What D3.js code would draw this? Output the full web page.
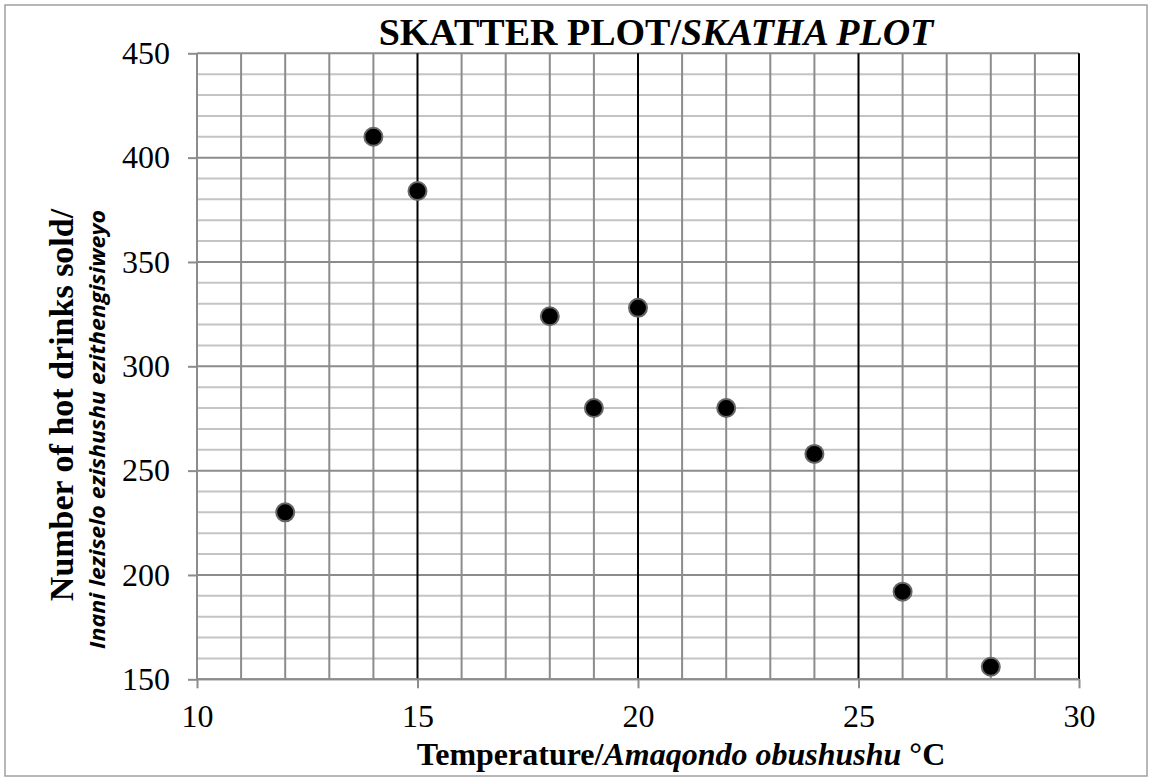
<!DOCTYPE html>
<html><head><meta charset="utf-8">
<script src="https://cdn.jsdelivr.net/npm/d3@7"></script>
<style>body{margin:0;background:#fff;} svg{display:block;}</style>
</head><body>
<script>
const temps = [12, 14, 15, 18, 19, 20, 22, 24, 26, 28];
const drinks = [230, 410, 384, 324, 280, 328, 280, 258, 192, 156];
const xTicks = [10, 15, 20, 25, 30];
const yTicks = [150, 200, 250, 300, 350, 400, 450];
const xMinor = d3.range(10, 31, 1);
const yMinor = d3.range(150, 451, 10);
const titleMain = "SKATTER PLOT/";
const titleItal = "SKATHA PLOT";
const xTitleA = "Temperature/", xTitleB = "Amaqondo obushushu", xTitleC = " °C";
const yTitle1 = "Number of hot drinks sold/";
const yTitle2 = "Inani leziselo ezishushu ezithengisiweyo";

const W = 1152, H = 778;
const m = {left: 197, right: 1079, top: 53.3, bottom: 679.3};
const serif = "Liberation Serif, Times New Roman, serif";
const svg = d3.select("body").append("svg").attr("width", W).attr("height", H);
svg.append("rect").attr("x", 5).attr("y", 5).attr("width", 1142).attr("height", 771)
  .attr("fill", "#fff").attr("stroke", "#a0a0a0").attr("stroke-width", 1.5);

const x = d3.scaleLinear().domain([10, 30]).range([m.left, m.right]);
const y = d3.scaleLinear().domain([150, 450]).range([m.bottom, m.top]);

const g = svg.append("g");
g.selectAll(".hmin").data(yMinor.filter(v => v % 50 !== 0)).join("line")
  .attr("x1", m.left).attr("x2", m.right).attr("y1", d => y(d)).attr("y2", d => y(d))
  .attr("stroke", "#c4c4c4").attr("stroke-width", 2);
g.selectAll(".hmaj").data(yTicks).join("line")
  .attr("x1", m.left).attr("x2", m.right).attr("y1", d => y(d)).attr("y2", d => y(d))
  .attr("stroke", "#8c8c8c").attr("stroke-width", 2);
g.selectAll(".vmin").data(xMinor.filter(v => v % 5 !== 0 || v === 10)).join("line")
  .attr("x1", d => x(d)).attr("x2", d => x(d)).attr("y1", m.top).attr("y2", m.bottom)
  .attr("stroke", "#8c8c8c").attr("stroke-width", 2);
g.selectAll(".vmaj").data(xTicks.filter(v => v !== 10)).join("line")
  .attr("x1", d => x(d)).attr("x2", d => x(d)).attr("y1", m.top).attr("y2", m.bottom)
  .attr("stroke", "#000").attr("stroke-width", 2);

const yAxis = d3.axisLeft(y).tickValues(yTicks).tickSize(9).tickPadding(18);
const yg = svg.append("g").attr("transform", `translate(${m.left},0)`).call(yAxis);
const xAxis = d3.axisBottom(x).tickValues(xTicks).tickSize(9).tickPadding(16);
const xg = svg.append("g").attr("transform", `translate(0,${m.bottom})`).call(xAxis);
[yg, xg].forEach(a => {
  a.select(".domain").attr("stroke", "#8c8c8c").attr("stroke-width", 2);
  a.selectAll(".tick line").attr("stroke", "#8c8c8c").attr("stroke-width", 2);
  a.selectAll(".tick text").attr("font-family", serif).attr("font-size", 32).attr("fill", "#000");
});
xg.selectAll(".domain").attr("d", `M${m.left},0H${m.right}`);
yg.selectAll(".domain").attr("d", `M0,${m.top}V${m.bottom}`);

svg.append("g").selectAll("circle").data(temps.map((t, i) => [t, drinks[i]])).join("circle")
  .attr("cx", d => x(d[0])).attr("cy", d => y(d[1])).attr("r", 9)
  .attr("fill", "#000").attr("stroke", "#666").attr("stroke-width", 2);

const t = svg.append("text").attr("x", 656).attr("y", 45).attr("text-anchor", "middle")
  .attr("font-family", serif).attr("font-size", 38).attr("font-weight", "bold");
t.append("tspan").text(titleMain);
t.append("tspan").attr("font-style", "italic").text(titleItal);

const xt = svg.append("text").attr("x", 681).attr("y", 765).attr("text-anchor", "middle")
  .attr("font-family", serif).attr("font-size", 32).attr("font-weight", "bold");
xt.append("tspan").text(xTitleA);
xt.append("tspan").attr("font-style", "italic").text(xTitleB);
xt.append("tspan").text(xTitleC);

svg.append("text").attr("transform", "translate(73,405) rotate(-90)").attr("text-anchor", "middle")
  .attr("font-family", serif).attr("font-size", 34).attr("font-weight", "bold")
  .text(yTitle1);
svg.append("text").attr("transform", "translate(105,429.5) rotate(-90)").attr("text-anchor", "middle")
  .attr("font-family", "Open Sans, sans-serif").attr("font-size", 22).attr("font-weight", 700).attr("font-style", "italic")
  .attr("textLength", 439).attr("lengthAdjust", "spacingAndGlyphs")
  .text(yTitle2);
</script>
</body></html>
